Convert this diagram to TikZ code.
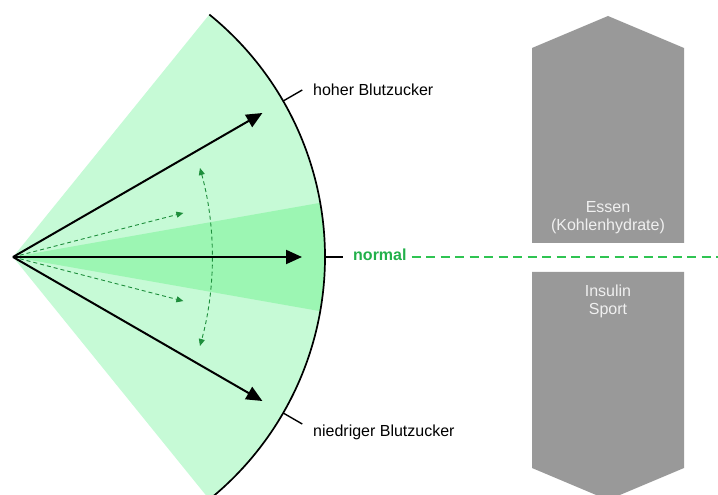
\documentclass[tikz,border=0pt]{standalone}
\usepackage{fontspec}
\setmainfont{Liberation Sans}
\usetikzlibrary{arrows.meta}
\definecolor{sectorlight}{HTML}{C6FAD6}
\definecolor{sectordark}{HTML}{9CF6B3}
\definecolor{normgreen}{HTML}{22B04A}
\definecolor{lightdash}{HTML}{2FC452}
\definecolor{arrowgreen}{HTML}{1E8E3C}
\definecolor{boxgray}{HTML}{999999}
\definecolor{boxtext}{HTML}{F0F0F0}
\tikzset{
  bigarrow/.style={line width=2pt, -{Triangle[length=16pt,width=14pt]}},
  swing/.style={arrowgreen, line width=0.9pt, dash pattern=on 4pt off 3pt,
                -{Triangle[length=7pt,width=6pt]}},
  tick/.style={line width=1.4pt},
  levellabel/.style={anchor=base west, inner sep=0pt},
  graybox/.style={fill=boxgray},
  boxlabel/.style={text=boxtext, align=center, inner sep=0pt}
}
\begin{document}
\begin{tikzpicture}[x=1pt, y=1pt, font=\fontsize{16}{18.5}\selectfont]
\useasboundingbox (-13,-238) rectangle (705,257);
\clip (-13,-238) rectangle (705,257);

% apex and key points of the sector
\coordinate (O) at (0,0);
\coordinate (hi) at (30:288);
\coordinate (mid) at (0:289);
\coordinate (lo) at (-30:288);
\coordinate (shi) at (14.5:176);
\coordinate (slo) at (-14.5:176);
\coordinate (arcC) at (-137,0);

% sector and the narrow "normal" band
\fill[sectorlight] (O) -- (51:312) arc[start angle=51, end angle=-51, radius=312] -- cycle;
\fill[sectordark] (O) -- (10:312) arc[start angle=10, end angle=-10, radius=312] -- cycle;
\draw[line width=1.7pt] (51:312) arc[start angle=51, end angle=-51, radius=312];

% ticks on the rim
\coordinate (thi0) at (30:312);  \coordinate (thi1) at (30:334);
\coordinate (tlo0) at (-30:312); \coordinate (tlo1) at (-30:334);
\coordinate (tn0) at (312,0);    \coordinate (tn1) at (330,0);
\draw[tick] (thi0) -- (thi1);
\draw[tick] (tlo0) -- (tlo1);
\draw[tick] (tn0) -- (tn1);

% small swings around normal
\draw[swing] (O) -- (shi);
\draw[swing] (O) -- (slo);
\draw[swing, {Triangle[length=7pt,width=6pt]}-{Triangle[length=7pt,width=6pt]}]
  (arcC) ++(15.36:336) arc[start angle=15.36, end angle=-15.36, radius=336];

% main pointers
\draw[bigarrow] (O) -- (hi);
\draw[bigarrow] (O) -- (mid);
\draw[bigarrow] (O) -- (lo);

% labels
\node[levellabel] (high) at (300,161) {hoher Blutzucker};
\node[levellabel] (low) at (300,-179) {niedriger Blutzucker};
\node[anchor=mid west, inner sep=0pt, text=normgreen, font=\fontsize{16}{18.5}\selectfont\bfseries]
  (normal) at (340,-0.5) {normal};
\coordinate (lineend) at (705,0);
\draw[lightdash, line width=2.2pt, dash pattern=on 9pt off 5.5pt]
  ([xshift=5pt]normal.east |- 0,0) -- (lineend);

% influences raising and lowering blood sugar
\fill[graybox] (519,14) -- (519,209) -- (595,241) -- (671,209) -- (671,14) -- cycle;
\fill[graybox] (519,-15) -- (519,-211) -- (595,-243) -- (671,-211) -- (671,-15) -- cycle;
\node[boxlabel] (up) at (595,39.5) {Essen\\(Kohlenhydrate)};
\node[boxlabel] (down) at (595,-44.5) {Insulin\\Sport};
\end{tikzpicture}
\end{document}
